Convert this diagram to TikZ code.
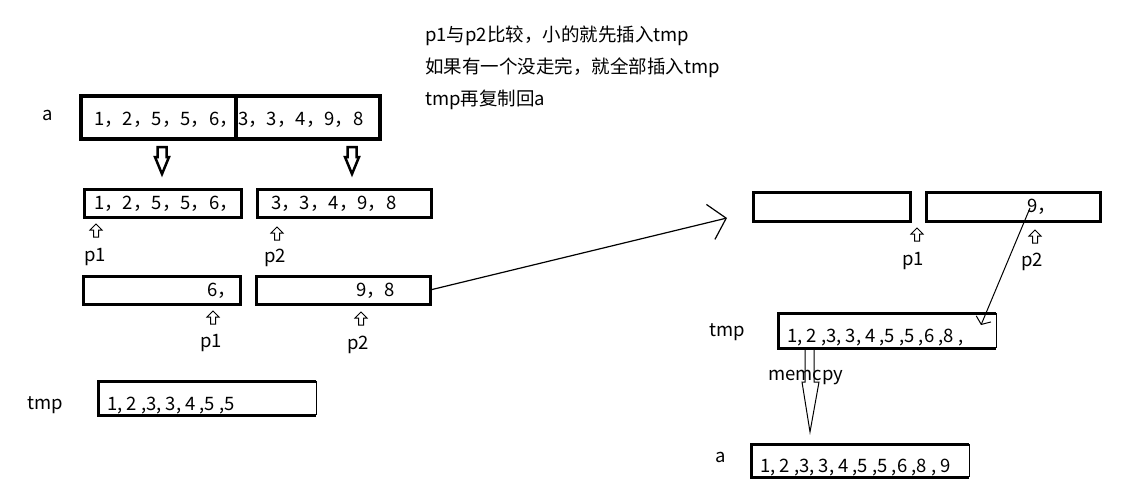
\documentclass[tikz,border=0pt]{standalone}
\usepackage{fontspec}
\setmainfont{Noto Sans CJK SC}
\usepackage{tikz}
\usetikzlibrary{positioning, arrows.meta}

\tikzset{
  box/.style={draw, line width=3pt, anchor=north west, inner sep=0pt, outer sep=0pt},
  openbox/.style={anchor=north west, inner sep=0pt, outer sep=0pt},
  num/.style={anchor=base west, inner sep=0pt},
  lbl/.style={inner sep=0pt},
  pics/bigdown/.style={code={
    \draw[line width=2.5pt] (-4.5,0) -- (4.5,0) -- (4.5,10) -- (7,10) -- (0,27) -- (-7,10) -- (-4.5,10) -- cycle;}},
  pics/ptrup/.style={code={
    \draw[line width=1pt] (0,0) -- (6,6) -- (2.5,6) -- (2.5,13) -- (-2.5,13) -- (-2.5,6) -- (-6,6) -- cycle;}}
}

\begin{document}
\begin{tikzpicture}[x=1pt, y=-1pt, font=\fontsize{18.5}{20}\selectfont]
  \fill[white] (0,0) rectangle (1130,498);
  \useasboundingbox (0,0) rectangle (1130,498);

  % notes
  \node[anchor=west, lbl] (note1) at (425,36) {p1与p2比较，小的就先插入tmp};
  \node[anchor=west, lbl] (note2) at (425,68) {如果有一个没走完，就全部插入tmp};
  \node[anchor=west, lbl] (note3) at (425,100) {tmp再复制回a};

  % array a
  \node[lbl] (alabel) at (48,115) {a};
  \node[box, line width=4pt, minimum width=155pt, minimum height=43pt] (aleft) at (81,96) {};
  \node[box, line width=4pt, minimum width=144pt, minimum height=43pt] (aright) at (236,96) {};
  \node[num] (aleftnum) at (94,125) {1，2，5，5，6，};
  \node[num] (arightnum) at (238,125) {3，3，4，9，8};
  \pic at (162,147) {bigdown};
  \pic at (352,147) {bigdown};

  % split halves
  \node[box, minimum width=157pt, minimum height=28pt] (left1) at (84,189) {};
  \node[box, minimum width=174pt, minimum height=28pt] (right1) at (257,189) {};
  \node[num] (left1num) at (94,209) {1，2，5，5，6，};
  \node[num] (right1num) at (271,209) {3，3，4，9，8};
  \pic at (96,224) {ptrup};
  \node[lbl] (pa1) at (95,257) {p1};
  \pic at (277,227) {ptrup};
  \node[lbl] (pb1) at (275,258) {p2};

  % after merging a few
  \node[box, minimum width=157pt, minimum height=28pt] (left2) at (83,276) {};
  \node[box, minimum width=174pt, minimum height=28pt] (right2) at (256,276) {};
  \node[num] (left2num) at (207,296) {6，};
  \node[num] (right2num) at (356,296) {9，8};
  \pic at (213,311) {ptrup};
  \node[lbl] (pa2) at (211,343) {p1};
  \pic at (361,312) {ptrup};
  \node[lbl] (pb2) at (358,345) {p2};

  % tmp, first state
  \node[lbl] (tmplabel1) at (45,405) {tmp};
  \node[openbox, minimum width=218pt, minimum height=34pt] (tmp1) at (98,381) {};
  \draw[line width=3pt] (tmp1.north east) -- (tmp1.north west) -- (tmp1.south west) -- (tmp1.south east);
  \draw[line width=1pt] (tmp1.north east) -- (tmp1.south east);
  \node[num] (tmp1num) at (107,410) {1, 2 ,3, 3, 4 ,5 ,5};

  % right side
  \node[box, minimum width=157pt, minimum height=29pt] (left3) at (753,192) {};
  \node[box, minimum width=174pt, minimum height=29pt] (right3) at (926,192) {};
  \node[num] (right3num) at (1027,212) {9，};
  \pic at (917,228) {ptrup};
  \node[lbl] (pa3) at (913,261) {p1};
  \pic at (1035,230) {ptrup};
  \node[lbl] (pb3) at (1032,262) {p2};

  \node[lbl] (tmplabel2) at (727,332) {tmp};
  \node[openbox, minimum width=218pt, minimum height=35pt] (tmp2) at (778,313) {};
  \draw[line width=3pt] (tmp2.north east) -- (tmp2.north west) -- (tmp2.south west) -- (tmp2.south east);
  \draw[line width=1pt] (tmp2.north east) -- (tmp2.south east);
  \node[num] (tmp2num) at (787,342) {1, 2 ,3, 3, 4 ,5 ,5 ,6 ,8 ,};

  % memcpy back to a
  \draw[line width=1pt] (805,348) -- (805,382) -- (802,382) -- (810,432) -- (819,382) -- (814,382) -- (814,348);
  \node[lbl, anchor=west] (memcpy) at (768,378) {memcpy};

  \node[lbl] (alabel2) at (721,457) {a};
  \node[openbox, minimum width=218pt, minimum height=33pt] (afinal) at (751,444) {};
  \draw[line width=3pt] (afinal.north east) -- (afinal.north west) -- (afinal.south west) -- (afinal.south east);
  \draw[line width=1pt] (afinal.north east) -- (afinal.south east);
  \node[num] (afinalnum) at (760,472) {1, 2 ,3, 3, 4 ,5 ,5 ,6 ,8 , 9};

  % connectors
  \coordinate (farend) at (727,218);
  \draw[line width=1.2pt, -{Straight Barb[length=16pt,width=36pt]}] (right2.east) -- (farend);
  \coordinate (ninestart) at (1030,208);
  \coordinate (tmpend) at (981,325);
  \draw[line width=1pt, -{Straight Barb[length=6pt,width=16pt]}] (ninestart) -- (tmpend);
\end{tikzpicture}
\end{document}
